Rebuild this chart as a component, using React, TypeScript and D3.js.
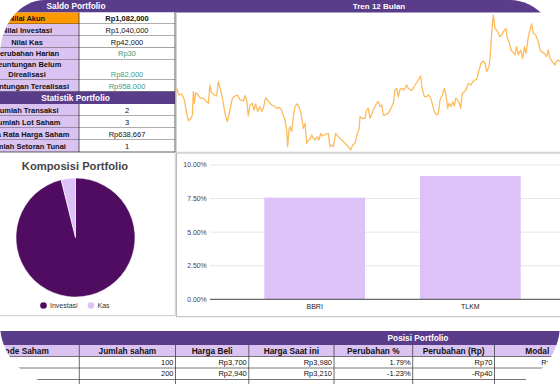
import React from "react";
import * as d3 from "d3";

const FONT = "'Liberation Sans', Arial, sans-serif";
const PURPLE = "#5a3d8a";
const LAV = "#dac3f1";
const BAR = "#dcc2f6";
const DARK = "#4f0c61";
const ORANGE = "#ff9900";
const GREEN = "#3f9a7c";
const LINE = "#fdbb5c";

// ---------- data ----------
const saldoTitle = "Saldo Portfolio";
const saldoLabels = ["Nilai Akun", "Nilai Investasi", "Nilai Kas", "Perubahan Harian", "Keuntungan Belum Direalisasi", "Keuntungan Terealisasi"];
const saldoValues = ["Rp1,082,000", "Rp1,040,000", "Rp42,000", "Rp30", "Rp82,000", "Rp958,000"];
const statTitle = "Statistik Portfolio";
const statLabels = ["Jumlah Transaksi", "Jumlah Lot Saham", "Rata Rata Harga Saham", "Jumlah Setoran Tunai"];
const statValues = ["2", "3", "Rp638,667", "1"];

const trendTitle = "Tren 12 Bulan";
const trendT = [5,12,20,28,35,40,48,52,55,58,62,70,72,78,85,92,100,105,108,112,118,125,130,138,145,150,157,165,172,180,188,195,205,210,215,220,225,232,237,242,248,255,260,265,272,280,290,300,305,312,318,325,330,335,338,342,345,350,355,360,365,372,378,385,390,395,400,405,410,415,420,427,432,437,442,447,455,460,465,470,475,482,490,500,510,520,527,533,540,547,552,555,560,565,570,575,580,585,595,605,610,615,620,625,630,640,648,655,660,665,670,675,680,685,690,695,700,710,720,730,737,742,748,755,760,765,770,778,785,790,795,802,808,812,815,818,822,828,833,838,842,848,853,857,862,868,873,880,888,893,900,905,912,918,925,930,935,942,945,950,955,960,968,975,980,985,993,997,1002,1008,1015,1020,1025,1030,1037,1043,1048,1053,1060,1065,1070,1075,1082,1090,1095,1100,1108,1115,1120,1125,1132,1140,1145,1150,1155];
const trendV = [195,175,178,160,120,98,105,115,185,150,182,175,170,165,165,158,150,205,185,180,175,172,215,185,150,120,95,130,165,172,175,160,157,173,160,112,145,150,130,148,125,140,125,135,167,157,145,140,135,138,132,115,100,70,20,70,80,65,110,140,148,140,120,75,90,30,40,42,55,45,40,50,40,60,52,55,58,60,20,25,20,60,50,40,30,20,10,25,30,60,70,110,105,105,105,130,135,105,130,150,155,140,145,115,115,120,135,150,190,195,170,192,195,190,195,205,195,188,205,220,232,192,170,170,175,170,155,125,115,120,160,175,195,180,160,135,150,140,155,142,165,160,150,135,180,185,190,210,205,215,220,222,250,270,277,270,245,260,285,360,415,375,365,350,355,365,375,345,335,310,302,295,320,295,310,285,320,300,350,370,388,360,355,335,310,305,300,290,310,285,275,265,275,280,275];

const pieTitle = "Komposisi Portfolio";
const pieLabels = ["Investasi", "Kas"];
const pieValues = [1040000, 42000];

const barCats = ["BBRI", "TLKM"];
const barValues = [7.57, 9.18];
const barTicks = [0, 2.5, 5, 7.5, 10];

const posTitle = "Posisi Portfolio";
const posHeaders = ["Kode Saham", "Jumlah saham", "Harga Beli", "Harga Saat ini", "Perubahan %", "Perubahan (Rp)", "Modal"];
const posJumlah = ["100", "200"];
const posBeli = ["Rp3,700", "Rp2,940"];
const posSaat = ["Rp3,980", "Rp3,210"];
const posPct = ["1.79%", "-1.23%"];
const posRp = ["Rp70", "-Rp40"];
const posModal = ["Rp370,000", "Rp588,000"];

// ---------- layout ----------
const saldoBounds = [12.5, 24, 36, 47.8, 59.5, 80, 91.7];
const statHeadBottom = 104;
const statBounds = [104, 116, 128, 140, 152];
const labelCX = 27;
const colDiv = 79;
const tableRight = 175;
const valueCX = 127;

const posCols = [-32, 79.3, 175.5, 248.8, 334, 412.7, 494.5, 580];
const posRows = [331, 345, 356.5, 368, 379.5, 391];

const clipPath =
  "M45 0 L510 0 A50 60 0 0 1 560 60 L560 324 A55 60 0 0 1 505 384 L60 384 A60 60 0 0 1 0 324 L0 55 A45 55 0 0 1 45 0 Z";

export default function App() {
  const x = d3.scaleLinear().domain([0, 1155]).range([175, 560]);
  const y = d3.scaleLinear().domain([0, 420]).range([153.33, 13.33]);
  const linePath = d3
    .line<number>()
    .x((_, i) => x(trendT[i]))
    .y((d) => y(d))(trendV) as string;

  const pie = d3.pie<number>().sort(null).value((d) => d)(pieValues);
  const arc = d3.arc<d3.PieArcDatum<number>>().innerRadius(0).outerRadius(59.5);
  const pieColors = [DARK, BAR];

  const bx = d3.scaleBand<string>().domain(barCats).range([210, 575]).paddingInner(0.353).paddingOuter(0.349);
  const by = d3.scaleLinear().domain([0, 10]).range([299.3, 165]);

  const greenIdx = new Set([3, 4, 5]);

  const cellText = (t: string, xx: number, yy: number, anchor: string, opts: any = {}) => (
    <text x={xx} y={yy} textAnchor={anchor as any} fontFamily={FONT} fontSize={opts.size ?? 7.5} fontWeight={opts.bold ? "bold" : "normal"} fill={opts.fill ?? "#111"}>
      {t}
    </text>
  );

  return (
    <div style={{ position: "absolute", left: 0, top: 0 }}>
      <svg width={560} height={384} style={{ display: "block" }}>
        <defs>
          <clipPath id="mask">
            <path d={clipPath} />
          </clipPath>
        </defs>
        <rect width={560} height={384} fill="#fff" />
        <g clipPath="url(#mask)">
          {/* top header band */}
          <rect x={0} y={0} width={560} height={12.5} fill={PURPLE} />
          {cellText(saldoTitle, 76, 9.3, "middle", { bold: true, size: 8.3, fill: "#fff" })}
          {cellText(trendTitle, 379, 9.3, "middle", { bold: true, size: 8, fill: "#fff" })}

          {/* saldo rows */}
          {saldoLabels.map((lab, i) => {
            const y0 = saldoBounds[i];
            const y1 = saldoBounds[i + 1];
            const mid = (y0 + y1) / 2;
            const tall = y1 - y0 > 15;
            const words = lab.split(" ");
            return (
              <g key={lab}>
                <rect x={-40} y={y0} width={colDiv + 40} height={y1 - y0} fill={i === 0 ? ORANGE : LAV} />
                <rect x={colDiv} y={y0} width={tableRight - colDiv} height={y1 - y0} fill="#fff" />
                {tall ? (
                  <>
                    {cellText(words.slice(0, 2).join(" "), labelCX, mid - 2.3, "middle", { bold: true })}
                    {cellText(words.slice(2).join(" "), labelCX, mid + 7.7, "middle", { bold: true })}
                  </>
                ) : (
                  cellText(lab, labelCX, mid + 2.7, "middle", { bold: true })
                )}
                {cellText(saldoValues[i], valueCX, tall ? mid + 7.7 : mid + 2.7, "middle", {
                  bold: i === 0,
                  fill: greenIdx.has(i) ? GREEN : "#111",
                })}
                <line x1={-40} x2={tableRight} y1={y1} y2={y1} stroke="#333" strokeWidth={0.8} />
              </g>
            );
          })}
          {/* stat header */}
          <rect x={-40} y={saldoBounds[6]} width={tableRight + 40} height={statHeadBottom - saldoBounds[6]} fill={PURPLE} />
          {cellText(statTitle, 75.5, (saldoBounds[6] + statHeadBottom) / 2 + 3, "middle", { bold: true, size: 8.3, fill: "#fff" })}
          {statLabels.map((lab, i) => {
            const y0 = statBounds[i];
            const y1 = statBounds[i + 1];
            const mid = (y0 + y1) / 2;
            return (
              <g key={lab}>
                <rect x={-40} y={y0} width={colDiv + 40} height={y1 - y0} fill={LAV} />
                <rect x={colDiv} y={y0} width={tableRight - colDiv} height={y1 - y0} fill="#fff" />
                {cellText(lab, labelCX, mid + 2.7, "middle", { bold: true })}
                {cellText(statValues[i], valueCX, mid + 2.7, "middle")}
                <line x1={-40} x2={tableRight} y1={y1} y2={y1} stroke="#333" strokeWidth={0.8} />
              </g>
            );
          })}
          <line x1={colDiv} x2={colDiv} y1={12.5} y2={saldoBounds[6]} stroke="#333" strokeWidth={0.8} />
          <line x1={colDiv} x2={colDiv} y1={statHeadBottom} y2={152} stroke="#333" strokeWidth={0.8} />
          <line x1={tableRight} x2={tableRight} y1={12.5} y2={152} stroke="#333" strokeWidth={0.8} />

          {/* trend chart */}
          <line x1={176} x2={176} y1={12.5} y2={153} stroke="#aaa" strokeWidth={1} />
          <line x1={176} x2={560} y1={152.7} y2={152.7} stroke="#d4d4d4" strokeWidth={2} />
          <path d={linePath} fill="none" stroke={LINE} strokeWidth={1.3} strokeLinejoin="round" />

          {/* pie panel */}
          <line x1={0} x2={175} y1={315.7} y2={315.7} stroke="#ccc" strokeWidth={1} />
          <line x1={175.3} x2={175.3} y1={153} y2={316} stroke="#ccc" strokeWidth={1} />
          {cellText(pieTitle, 75, 170, "middle", { bold: true, size: 11.2, fill: "#444" })}
          <g transform="translate(75.5,237.5)">
            {pie.map((p, i) => (
              <path key={i} d={arc(p) as string} fill={pieColors[i]} stroke="#fff" strokeWidth={0.5} />
            ))}
          </g>
          {pieLabels.map((lab, i) => {
            const lx = [43.5, 91][i];
            return (
              <g key={lab}>
                <circle cx={lx} cy={305.5} r={3.3} fill={pieColors[i]} />
                {cellText(lab, lx + 6.5, 308, "start", { size: 7, fill: "#333" })}
              </g>
            );
          })}

          {/* bar panel */}
          <line x1={176.5} x2={176.5} y1={153} y2={317} stroke="#bbb" strokeWidth={1} />
          <line x1={176} x2={560} y1={316.7} y2={316.7} stroke="#bbb" strokeWidth={1} />
          {barTicks.map((t) => (
            <g key={t}>
              {t > 0 && <line x1={210} x2={575} y1={by(t)} y2={by(t)} stroke="#e6e6e6" strokeWidth={1} />}
              {cellText(d3.format(".2f")(t) + "%", 206.7, by(t) + 2.4, "end", { size: 6.9, fill: "#444" })}
            </g>
          ))}
          {barCats.map((c, i) => (
            <g key={c}>
              <rect x={bx(c)} y={by(barValues[i])} width={bx.bandwidth()} height={by(0) - by(barValues[i])} fill={BAR} />
              {cellText(c, (bx(c) as number) + bx.bandwidth() / 2, 309, "middle", { size: 7, fill: "#222" })}
            </g>
          ))}
          <line x1={210} x2={575} y1={by(0)} y2={by(0)} stroke="#444" strokeWidth={1} />

          {/* posisi table */}
          <rect x={-40} y={posRows[0]} width={640} height={posRows[1] - posRows[0]} fill={PURPLE} />
          {cellText(posTitle, 418, (posRows[0] + posRows[1]) / 2 + 3, "middle", { bold: true, size: 8.3, fill: "#fff" })}
          <rect x={-40} y={posRows[1]} width={640} height={posRows[2] - posRows[1]} fill={LAV} />
          {posHeaders.map((h, i) => {
            const cx = (posCols[i] + posCols[i + 1]) / 2;
            return <g key={h}>{cellText(h, i === 0 ? 23.7 : cx, (posRows[1] + posRows[2]) / 2 + 3, "middle", { bold: true, size: 8.3 })}</g>;
          })}
          {[posJumlah, posBeli, posSaat, posPct, posRp, posModal].map((col, ci) =>
            col.map((v, ri) => (
              <g key={ci + "-" + ri}>{cellText(v, posCols[ci + 2] - 2, (posRows[ri + 2] + posRows[ri + 3]) / 2 + 2.7, "end")}</g>
            ))
          )}
          {posRows.slice(2).map((ry, i) => (
            <line key={i} x1={-40} x2={600} y1={ry} y2={ry} stroke="#555" strokeWidth={0.8} />
          ))}
          {posCols.slice(1, 7).map((cx, i) => (
            <line key={i} x1={cx} x2={cx} y1={posRows[1]} y2={392} stroke="#444" strokeWidth={0.8} />
          ))}
        </g>
      </svg>
    </div>
  );
}
